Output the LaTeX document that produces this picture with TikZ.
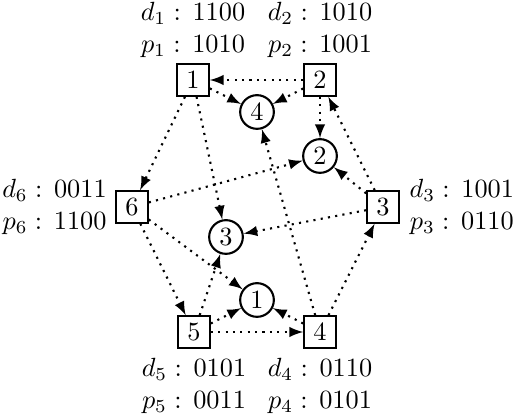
\documentclass[tikz,border=0pt]{standalone}
\usepackage{amssymb}
\usepackage{amsmath}
\usetikzlibrary{positioning}

\begin{document}
\begin{tikzpicture}[x=0.38pt,y=-0.38pt,
        node/.style={draw,thick,minimum size=12pt,inner sep=0pt},
        chunk/.style={draw,thick,circle,minimum size=12.8pt,inner sep=0pt},
        info/.style={align=center,inner sep=0pt},
        link/.style={thick,dotted,-latex}
    ]
    \useasboundingbox (0,0) rectangle (514,414);
    % storage nodes
    \node[node] (n1) at (193,80) {1};
    \node[node] (n2) at (320,80) {2};
    \node[node] (n3) at (383,207) {3};
    \node[node] (n4) at (320,332) {4};
    \node[node] (n5) at (194,332) {5};
    \node[node] (n6) at (132,207) {6};
    % chunks
    \node[chunk] (c1) at (257,300) {1};
    \node[chunk] (c2) at (320,156) {2};
    \node[chunk] (c3) at (226,237) {3};
    \node[chunk] (c4) at (257,112) {4};
    % contents
    \node[info,above=2pt of n1] (i1) {$d_1:\,1100$\\$p_1:\,1010$};
    \node[info,above=2pt of n2] (i2) {$d_2:\,1010$\\$p_2:\,1001$};
    \node[info,right=3.5pt of n3] (i3) {$d_3:\,1001$\\$p_3:\,0110$};
    \node[info,below=3.5pt of n4] (i4) {$d_4:\,0110$\\$p_4:\,0101$};
    \node[info,below=3.5pt of n5] (i5) {$d_5:\,0101$\\$p_5:\,0011$};
    \node[info,left=3pt of n6] (i6) {$d_6:\,0011$\\$p_6:\,1100$};
    % ring
    \draw[link] (n2) -- (n1);
    \draw[link] (n1) -- (n6);
    \draw[link] (n6) -- (n5);
    \draw[link] (n5) -- (n4);
    \draw[link] (n4) -- (n3);
    \draw[link] (n3) -- (n2);
    % chunks
    \draw[link] (n1) -- (c4);
    \draw[link] (n2) -- (c4);
    \draw[link] (n4) -- (c4);
    \draw[link] (n2) -- (c2);
    \draw[link] (n3) -- (c2);
    \draw[link] (n6) -- (c2);
    \draw[link] (n1) -- (c3);
    \draw[link] (n3) -- (c3);
    \draw[link] (n5) -- (c3);
    \draw[link] (n6) -- (c1);
    \draw[link] (n5) -- (c1);
    \draw[link] (n4) -- (c1);
\end{tikzpicture}
\end{document}
